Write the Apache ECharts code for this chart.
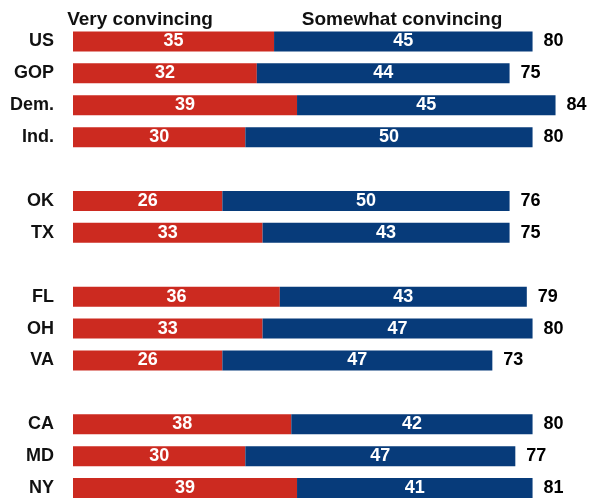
<!DOCTYPE html>
<html><head><meta charset="utf-8">
<script src="https://cdn.jsdelivr.net/npm/echarts@6/dist/echarts.min.js"></script>
<style>html,body{margin:0;padding:0;background:#fff}#c{width:590px;height:504px}</style>
</head><body><div id="c"></div>
<script>
const categories = ['US','GOP','Dem.','Ind.',' ','OK','TX','  ','FL','OH','VA','   ','CA','MD','NY'];
const veryConvincing = [35,32,39,30,null,26,33,null,36,33,26,null,38,30,39];
const somewhatConvincing = [45,44,45,50,null,50,43,null,43,47,47,null,42,47,41];
const totals = [80,75,84,80,null,76,75,null,79,80,73,null,80,77,81];
const seriesNames = ['Very convincing','Somewhat convincing'];

const FONT = 'Liberation Sans, Arial, sans-serif';
const chart = echarts.init(document.getElementById('c'));
const endData = categories.map((c,i)=> veryConvincing[i]==null ? null : [veryConvincing[i]+somewhatConvincing[i], i]);
chart.setOption({
  animation:false,
  title:[
    {text:seriesNames[0], left:135, top:5, textAlign:'center', textStyle:{fontFamily:FONT,fontSize:19,fontWeight:'bold',color:'#111'}},
    {text:seriesNames[1], left:397, top:5, textAlign:'center', textStyle:{fontFamily:FONT,fontSize:19,fontWeight:'bold',color:'#111'}}
  ],
  grid:{left:73, top:25.5, right:-2.75, height:480.6, containLabel:false},
  xAxis:{type:'value', min:0, max:90, show:false},
  yAxis:{type:'category', data:categories, inverse:true,
    axisLine:{show:false}, axisTick:{show:false}, splitLine:{show:false},
    axisLabel:{fontFamily:FONT,fontSize:18,fontWeight:'bold',color:'#111',margin:19}},
  series:[
    {name:seriesNames[0], type:'bar', stack:'a', data:veryConvincing, barWidth:20,
     itemStyle:{color:'#CC2A20'},
     label:{show:true, position:'inside', color:'#fff', fontFamily:FONT,fontSize:18,fontWeight:'bold'}},
    {name:seriesNames[1], type:'bar', stack:'a', data:somewhatConvincing, barWidth:20,
     itemStyle:{color:'#073B7A'},
     label:{show:true, position:'inside', color:'#fff', fontFamily:FONT,fontSize:18,fontWeight:'bold'}},
    {type:'scatter', data:endData, symbol:'rect', symbolSize:0, itemStyle:{color:'#fff', opacity:1}, silent:true,
     label:{show:true, position:'right', distance:11, color:'#000', opacity:1, fontFamily:FONT,fontSize:18,fontWeight:'bold',
       formatter:p=>String(totals[p.dataIndex])}}
  ]
});
</script></body></html>
